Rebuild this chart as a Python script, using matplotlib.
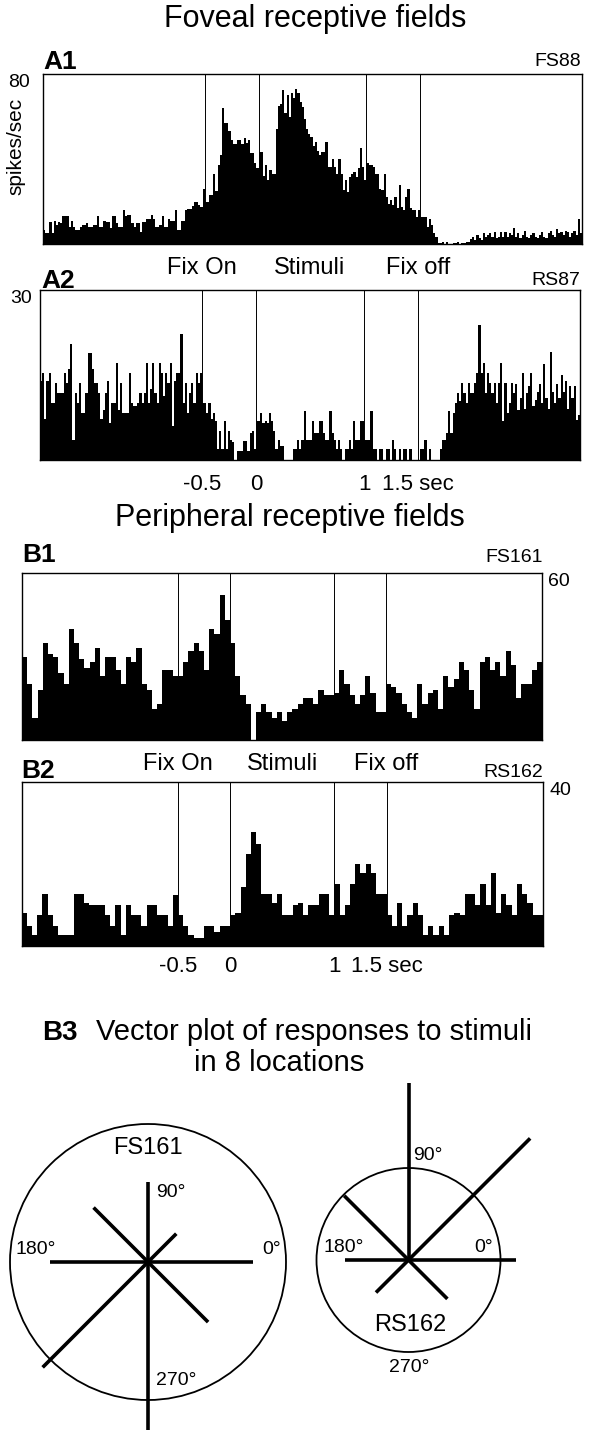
import numpy as np
import matplotlib.pyplot as plt
from matplotlib import transforms

plt.rcParams['font.family'] = ['Liberation Sans', 'DejaVu Sans']

# time axis of the histograms (sec, relative to stimulus onset)
t_start, t_end = -2.0, 3.0
events = [-0.5, 0, 1, 1.5]
event_names = ['Fix On', 'Stimuli', 'Fix off']
event_name_pos = [-0.5, 0.5, 1.5]
time_ticks = [-0.5, 0, 1, 1.5]
time_labels = ['-0.5', '0', '1', '1.5 sec']

# A1: FS88, 20 ms bins (spikes/sec)
fs88 = [6.6, 5, 5, 10.5, 5, 11, 9, 10.5, 9.7, 13,
        13, 13, 8, 11, 8, 6.6, 6.6, 8, 9, 9,
        9.7, 8, 8, 9, 9, 13, 8, 8, 11, 10.5,
        10.5, 7.4, 13, 13, 9.7, 8, 8, 16, 13, 13.7,
        13.7, 9.7, 8, 9.7, 9.7, 5.8, 10.5, 10.5, 12, 12,
        13.7, 12, 8, 8, 9, 13, 8, 8, 12, 11,
        11, 16, 6.6, 6.6, 11, 11, 16, 16.3, 16.3, 18,
        20, 20, 18.4, 17.6, 26, 20, 20, 23, 23, 33,
        25, 37, 42, 64, 57, 57, 53, 49, 47, 47,
        49, 49, 47, 50, 47.4, 49, 43, 43, 38, 36,
        43.5, 43.5, 32, 37, 30, 35, 33, 33, 54, 65,
        66, 72.5, 61.5, 70, 60, 71, 68.6, 73, 71, 67,
        64.7, 59, 54, 52, 50.5, 46, 48, 44, 42, 43.5,
        43.5, 48, 36.4, 36.4, 40, 36.4, 33, 40, 33, 25.4,
        30, 24.6, 31.7, 33, 34, 31.7, 35.6, 45, 36.4, 30,
        38, 37, 37, 36.4, 33, 33, 26, 25.4, 33, 22.3,
        19, 20.7, 18.4, 22.3, 16.8, 27.8, 17.6, 16, 22.3, 26,
        16.8, 16, 16, 12.9, 16, 12.9, 12.9, 12.9, 8.2, 12,
        9, 5, 3.5, 0.3, 0.3, 1.1, 0, 1.1, 0, 0,
        0.3, 0.3, 1.1, 0, 0.6, 0.6, 1.1, 1.1, 2.2, 3.5,
        1.9, 4.2, 2.7, 1.9, 5, 3.5, 4.2, 5, 3.5, 5.8,
        2.7, 3.5, 5.8, 3.5, 5.8, 3.5, 5, 4.2, 7.4, 3.5,
        5, 2.7, 4.2, 6, 3.5, 2.7, 4.2, 5, 3.5, 2.7,
        4.2, 5.5, 3.5, 2.7, 5, 6.3, 4.2, 3.5, 7, 5,
        5.5, 4.2, 6, 5.5, 3.5, 5, 6, 4.2, 12, 5]

# A2: RS87, 20 ms bins
rs87 = [13.9, 15.4, 7.2, 13.9, 15.4, 10.1, 10.1, 13.6, 11.9, 11.9,
        11.9, 15.4, 13.6, 16, 20.4, 3.6, 11.9, 10.1, 13.6, 8.3,
        8.3, 11.9, 18.9, 18.9, 16, 13.6, 13.6, 11.9, 7.2, 8.9,
        11.9, 13.9, 6.6, 10.1, 10.1, 17.2, 8.9, 13.6, 8.3, 8.3,
        8.3, 15.4, 10.1, 9.5, 9.5, 10.1, 11.9, 10.1, 11.9, 17.2,
        10.1, 12.5, 17.2, 11.9, 10.1, 17.2, 15.4, 11.3, 15.4, 13.6,
        17.2, 6, 13.9, 15.4, 15.4, 22.2, 10.1, 13.6, 8.3, 11.9,
        13.6, 10.1, 15.4, 13.6, 15.4, 10.1, 10.1, 8.3, 10.1, 7.2,
        8.3, 6.9, 1.9, 5.1, 1.9, 6.9, 1.9, 5.1, 3.6, 3.1,
        0, 1.6, 1.6, 1.6, 3.4, 3.4, 1.6, 4.8, 5.1, 1.9,
        6.9, 6.9, 8.3, 6.6, 6.9, 6.6, 8.3, 6.9, 5.1, 1.9,
        3.5, 2.5, 2.5, 0, 0, 0, 0, 1.9, 1.9, 3.5,
        1.9, 3.5, 8.6, 3.5, 3.5, 3.5, 6.9, 4.8, 4.8, 6.9,
        6.9, 4.8, 3.5, 3.5, 8.6, 4.8, 3.5, 1.9, 3.5, 1.9,
        0, 1.9, 1.9, 3.5, 1.9, 6.9, 3.5, 3.5, 6.9, 6.9,
        3.6, 3.5, 3.5, 8.6, 1.9, 1.9, 0, 1.9, 1.9, 0,
        1.9, 1.9, 0, 3.5, 1.9, 0, 1.9, 0, 1.9, 1.9,
        0, 1.9, 0, 0, 0, 0, 1.9, 1.9, 3.5, 0,
        1.9, 0, 0, 0, 0, 1.9, 3.5, 3.5, 4.8, 8.6,
        4.8, 8.3, 10.1, 11.9, 10.4, 13.6, 11.9, 10.1, 13.6, 11.9,
        11.9, 13.6, 15.4, 23.9, 15.4, 17.2, 11.9, 15.4, 13.6, 11.9,
        13.6, 10.1, 13.6, 17.2, 6.9, 13.6, 8.3, 10.1, 13.6, 11.9,
        13.5, 8.8, 11, 15.3, 9, 11.8, 13, 15.3, 9.5, 10.6,
        12, 13.5, 10, 17, 11, 9, 19, 12, 10, 13.5,
        11, 15, 12, 14, 9, 13, 11, 13, 7, 8]

# B1: FS161, 50 ms bins
fs161 = [30, 20, 8, 18, 35, 31, 30, 24, 20, 40,
         35, 29, 26, 28, 33, 23, 30, 30, 25, 20,
         30, 28, 33, 20, 18, 11, 13, 25, 25, 23,
         23, 28, 32, 35, 32, 25, 40, 38, 52, 43,
         35, 23, 16, 13, 0, 10, 13, 10, 8, 10,
         7, 10, 11, 13, 15, 15, 13, 18, 16, 16,
         17, 25, 20, 16, 13, 16, 23, 17, 10, 10,
         20, 19, 17, 13, 10, 8, 20, 13, 17, 18,
         11, 23, 19, 22, 28, 25, 18, 11, 28, 30,
         25, 28, 23, 32, 27, 15, 20, 20, 25, 28]

# B2: RS162, 50 ms bins
rs162 = [8, 5, 2.7, 7.5, 12.8, 7.5, 5, 2.7, 2.7, 2.7,
         12.8, 12.8, 10.4, 10, 10, 10, 7.5, 5, 10, 2.7,
         10, 7.5, 7.5, 5, 10, 10, 7.5, 7.5, 5, 12.4,
         7.5, 5, 2.7, 1.9, 2, 5, 5, 3.5, 5, 5,
         7.5, 8, 14.4, 22.5, 27.8, 25, 12.8, 12.8, 10.4, 12.8,
         7.5, 7.5, 10, 10.4, 7.5, 10, 10, 12.8, 12.8, 7.5,
         15.2, 7.5, 10, 15.2, 20, 17.7, 20, 17.7, 12.8, 12.8,
         7.5, 5, 10.4, 5, 7.5, 10.4, 7.5, 2.7, 5, 2.7,
         5, 2.7, 7.5, 8, 7.5, 12.8, 12.8, 10, 15.2, 10,
         17.7, 8, 12.8, 10, 7.5, 15.2, 12.8, 10.4, 7.5, 7.5]

# B3: vector plot, response to stimuli in 8 locations
directions = [0, 45, 90, 135, 180, 225, 270, 315]
fs161_vectors = [105, 40, 80, 77, 98, 149, 168, 85]
fs161_circle = 138
rs162_vectors = [107, 172, 177, 91, 64, 46, 0, 55]
rs162_circle = 92

W, H = 591, 1431
fig = plt.figure(figsize=(W / 100, H / 100), dpi=100)


def px_box(x0, y0, x1, y1):
    return [x0 / W, 1 - y1 / H, (x1 - x0) / W, (y1 - y0) / H]


def ftext(x, y, s, **kw):
    fig.text(x / W, 1 - y / H, s, **kw)


def psth(rect, rates, ymax, right=False, ypad=6):
    ax = fig.add_axes(px_box(*rect))
    edges = np.linspace(t_start, t_end, len(rates) + 1)
    ax.stairs(rates, edges, fill=True, color='black', lw=0)
    for e in events:
        ax.axvline(e, color='black', lw=0.7)
    ax.set_xlim(t_start, t_end)
    ax.set_ylim(0, ymax)
    for s in ax.spines.values():
        s.set_linewidth(1.0)
    ax.set_xticks([])
    if right:
        ax.yaxis.tick_right()
    ax.set_yticks([ymax])
    ax.set_yticklabels([str(ymax)], va='top')
    ax.tick_params(axis='y', length=0, labelsize=14, pad=ypad * 0.72)
    return ax


def event_labels(ax, above):
    tr = transforms.offset_copy(ax.get_xaxis_transform(), fig=fig,
                                y=above * 0.72, units='points')
    for p, name in zip(event_name_pos, event_names):
        ax.text(p, 1, name, transform=tr, ha='center', va='baseline', fontsize=17)


def time_axis(ax, pad):
    ax.set_xticks(time_ticks, time_labels)
    ax.tick_params(axis='x', length=0, labelsize=16, pad=pad * 0.72)


# ---------- Foveal ----------
ftext(315, 27, 'Foveal receptive fields', ha='center', va='baseline', fontsize=22)

a1 = psth((43, 74, 582, 244), fs88, 80, ypad=13)
ftext(43, 69, 'A1', ha='left', va='baseline', fontsize=19, fontweight='bold')
ftext(581, 66, 'FS88', ha='right', va='baseline', fontsize=14)
ftext(16, 146, 'spikes/sec', ha='center', va='center', rotation=90, fontsize=15)

a2 = psth((40, 290, 580, 460), rs87, 30, ypad=8)
ftext(41, 288, 'A2', ha='left', va='baseline', fontsize=19, fontweight='bold')
ftext(580, 285, 'RS87', ha='right', va='baseline', fontsize=14)
event_labels(a2, 16)
time_axis(a2, 14)

# ---------- Peripheral ----------
ftext(290, 526, 'Peripheral receptive fields', ha='center', va='baseline', fontsize=22)

b1 = psth((22, 573, 542, 740), fs161, 60, right=True, ypad=6)
ftext(22, 562, 'B1', ha='left', va='baseline', fontsize=19, fontweight='bold')
ftext(543, 562, 'FS161', ha='right', va='baseline', fontsize=14)

b2 = psth((21.5, 782, 543, 946), rs162, 40, right=True, ypad=6)
ftext(21, 778, 'B2', ha='left', va='baseline', fontsize=19, fontweight='bold')
ftext(543, 777, 'RS162', ha='right', va='baseline', fontsize=14)
event_labels(b2, 12)
time_axis(b2, 10)

# ---------- B3 vector plots ----------
ftext(42, 1040, 'B3', ha='left', va='baseline', fontsize=20, fontweight='bold')
ftext(96, 1040, 'Vector plot of responses to stimuli', ha='left', va='baseline', fontsize=21)
ftext(279, 1071, 'in 8 locations', ha='center', va='baseline', fontsize=21)


def vector_plot(center, vectors, radius, labels):
    L = 180
    cx, cy = center
    ax = fig.add_axes(px_box(cx - L, cy - L, cx + L, cy + L))
    ax.set_xlim(-L, L)
    ax.set_ylim(-L, L)
    ax.set_aspect('equal')
    ax.axis('off')
    ax.add_patch(plt.Circle((0, 0), radius, fill=False, lw=1.3,
                            color='black', clip_on=False))
    for d, r in zip(directions, vectors):
        a = np.deg2rad(d)
        ax.plot([0, r * np.cos(a)], [0, r * np.sin(a)], color='black',
                lw=2.6, solid_capstyle='butt', clip_on=False)
    for x, y, s, ha, size in labels:
        ax.text(x, y, s, ha=ha, va='center', fontsize=size, clip_on=False)
    return ax


vector_plot((148, 1262), fs161_vectors, fs161_circle, [
    (0, 114, 'FS161', 'center', 17),
    (8, 70, '90°', 'left', 14),
    (-133, 13, '180°', 'left', 14),
    (133, 13, '0°', 'right', 14),
    (8, -118, '270°', 'left', 14),
])

vector_plot((408.5, 1260), rs162_vectors, rs162_circle, [
    (1.5, -65, 'RS162', 'center', 17),
    (5, 104, '90°', 'left', 14),
    (-85, 12, '180°', 'left', 14),
    (84, 12, '0°', 'right', 14),
    (1, -107, '270°', 'center', 14),
])

fig.savefig('out.png', dpi=100)
